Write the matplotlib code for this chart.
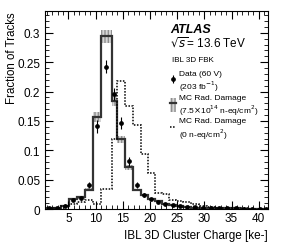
import numpy as np
import matplotlib
matplotlib.use("Agg")
import matplotlib.pyplot as plt
from matplotlib.patches import Patch
from matplotlib.lines import Line2D
from matplotlib.ticker import MultipleLocator, FormatStrFormatter

plt.rcParams['font.family'] = ['Liberation Sans', 'DejaVu Sans']

# bin edges in ke
edges = np.array([0.7, 2.2, 3.7, 5.1, 6.65, 8.0, 9.6, 10.95, 12.95, 13.9, 15.4,
                  16.85, 18.3, 19.6, 20.9, 22.2, 23.5, 24.8, 26.1, 27.5, 29.0,
                  30.5, 32.0, 33.5, 35.0, 36.5, 38.0, 39.5, 41.0, 41.7])

# data (60 V)
data = np.array([0.001, 0.002, 0.006, 0.015, 0.019, 0.041, 0.141, 0.242, 0.196,
                 0.147, 0.081, 0.041, 0.024, 0.017, 0.012, 0.009, 0.007, 0.005,
                 0.004, 0.003, 0.002, 0.0015, 0.0012, 0.001, 0.001, 0.0008,
                 0.0008, 0.0007, 0.0006])
data_err = np.array([0.0005, 0.001, 0.002, 0.002, 0.003, 0.005, 0.011, 0.011,
                     0.010, 0.010, 0.007, 0.005, 0.003, 0.002, 0.002, 0.001,
                     0.001, 0.001, 0.001, 0.001, 0.0005, 0.0005, 0.0005, 0.0005,
                     0.0005, 0.0004, 0.0004, 0.0004, 0.0003])

# MC with radiation damage (7.5e14)
mc_rad = np.array([0.001, 0.002, 0.005, 0.017, 0.020, 0.033, 0.157, 0.294, 0.184,
                   0.119, 0.071, 0.033, 0.024, 0.018, 0.013, 0.009, 0.007, 0.005,
                   0.0035, 0.0025, 0.002, 0.0015, 0.0012, 0.001, 0.001, 0.0008,
                   0.0008, 0.0007, 0.0006])
mc_rad_err = np.array([0.0003, 0.0005, 0.001, 0.002, 0.002, 0.003, 0.008, 0.011,
                       0.008, 0.006, 0.004, 0.002, 0.0015, 0.001, 0.001, 0.0008,
                       0.0006, 0.0005, 0.0004, 0.0003, 0.0002, 0.0002, 0.0002,
                       0.0001, 0.0001, 0.0001, 0.0001, 0.0001, 0.0001])

# MC without radiation damage
mc_norad = np.array([0.001, 0.002, 0.005, 0.009, 0.012, 0.016, 0.009, 0.034, 0.119,
                     0.218, 0.176, 0.143, 0.093, 0.062, 0.027, 0.026, 0.016, 0.014,
                     0.012, 0.008, 0.005, 0.003, 0.002, 0.0015, 0.001, 0.001,
                     0.0008, 0.0006, 0.0005])

centers = 0.5 * (edges[:-1] + edges[1:])

fig = plt.figure(figsize=(2.83, 2.51), dpi=100)
ax = fig.add_axes([0.159, 0.163, 0.788, 0.789])

# MC uncertainty band
ax.stairs(mc_rad + mc_rad_err, edges, baseline=mc_rad - mc_rad_err, fill=True,
          facecolor='#d6d6d6', edgecolor='#8f8f8f', hatch='|||||', linewidth=0)
ax.stairs(mc_rad, edges, color='#333333', linewidth=1.6)
ax.stairs(mc_norad, edges, color='black', linewidth=1.1, linestyle=(0, (1, 1)))
ax.errorbar(centers, data, yerr=data_err, fmt='o', ms=2.4, color='black',
            elinewidth=0.8, capsize=0)

ax.set_xlim(edges[0], edges[-1])
ax.set_ylim(0, 0.337)

ax.xaxis.set_major_locator(MultipleLocator(5))
ax.xaxis.set_minor_locator(MultipleLocator(1))
ax.yaxis.set_major_locator(MultipleLocator(0.05))
ax.yaxis.set_minor_locator(MultipleLocator(0.01))
ax.yaxis.set_major_formatter(FormatStrFormatter('%g'))
ax.tick_params(which='both', direction='in', top=True, right=True, labelsize=8.5)
ax.tick_params(which='major', length=6, width=0.8)
ax.tick_params(which='minor', length=3, width=0.6)
ax.tick_params(axis='x', pad=2)
for s in ax.spines.values():
    s.set_linewidth(0.8)

ax.set_xlabel('IBL 3D Cluster Charge [ke-]', loc='right', fontsize=8.5)
ax.set_ylabel('Fraction of Tracks', fontsize=8.3, ha='right')
ax.yaxis.set_label_coords(-0.122, 1.0)

ax.text(0.56, 0.91, 'ATLAS', transform=ax.transAxes, fontsize=9,
        fontweight='bold', fontstyle='italic', va='center')
ax.text(0.56, 0.84, r'$\sqrt{s}$= 13.6 TeV', transform=ax.transAxes,
        fontsize=8.5, va='center')
ax.text(0.57, 0.755, 'IBL 3D FBK', transform=ax.transAxes, fontsize=5.8,
        va='center')

h_data = ax.errorbar([], [], yerr=[], fmt='o', ms=2.4, color='black',
                     elinewidth=0.8, capsize=0)
h_mc = (Patch(facecolor='#d6d6d6', edgecolor='#8f8f8f', hatch='|||||', linewidth=0),
        Line2D([], [], color='#333333', linewidth=1.6))
h_nr = Line2D([], [], color='black', linewidth=1.1, linestyle=(0, (1, 1)))
leg = ax.legend([h_data, h_mc, h_nr],
                ['Data (60 V)\n(203 fb$^{-1}$)',
                 'MC Rad. Damage\n(7.5$\\times$10$^{14}$ n-eq/cm$^{2}$)',
                 'MC Rad. Damage\n(0 n-eq/cm$^{2}$)'],
                loc='upper left', bbox_to_anchor=(0.54, 0.725), frameon=False,
                fontsize=6, handlelength=0.8, handleheight=2.2,
                handletextpad=0.35, labelspacing=0.05, borderpad=0)

fig.savefig('out.png', dpi=100)
